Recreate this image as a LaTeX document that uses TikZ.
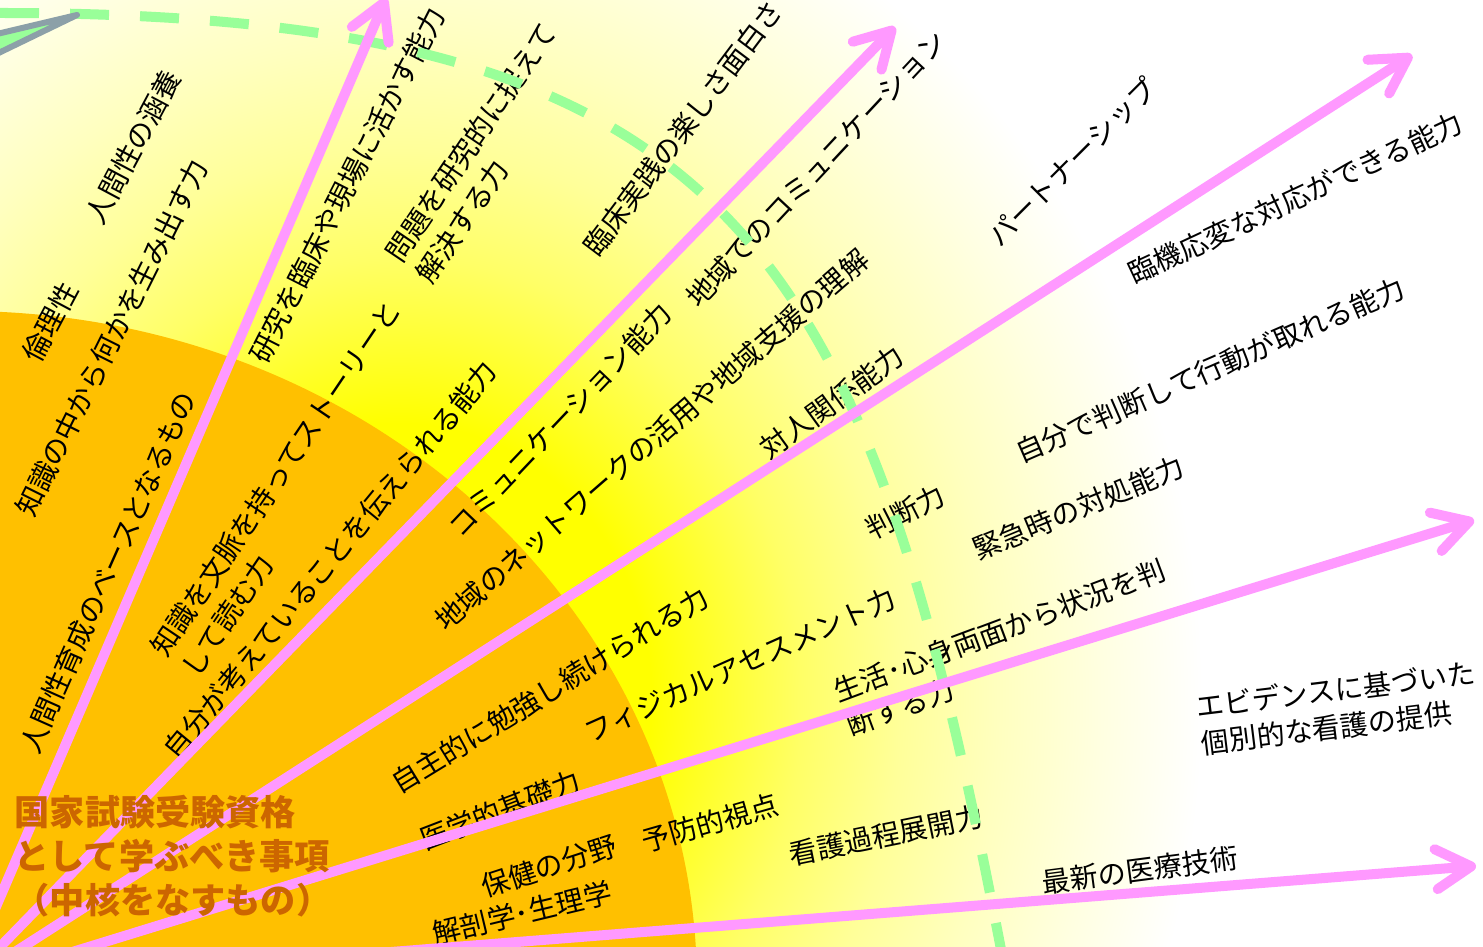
\documentclass[tikz,border=0pt]{standalone}
\usepackage{fontspec}
\setmainfont{Noto Sans CJK JP}
\usetikzlibrary{arrows.meta}

\definecolor{coreorange}{RGB}{255,192,0}
\definecolor{corefont}{RGB}{204,102,0}
\definecolor{raypink}{RGB}{255,153,255}
\definecolor{arcgreen}{RGB}{153,255,153}
\definecolor{wedgegray}{RGB}{140,160,168}
\colorlet{glowA}{yellow!60!white}
\colorlet{glowB}{yellow!40!white}
\colorlet{glowC}{yellow!25!white}
\colorlet{glowD}{yellow!12!white}
\pgfdeclareradialshading{glow}{\pgfpoint{0bp}{0bp}}{color(0bp)=(yellow); color(3.7bp)=(yellow); color(5.9bp)=(glowA); color(7.35bp)=(glowB); color(8.8bp)=(glowC); color(10.3bp)=(glowD); color(11.8bp)=(white); color(50bp)=(white)}

\tikzset{
  lbl/.style={font=\fontsize{8pt}{10.5pt}\selectfont, inner sep=0pt, align=left},
  corelbl/.style={font=\fontsize{10pt}{12.5pt}\selectfont\bfseries, text=corefont, inner sep=0pt, align=left},
  rayarrow/.style={draw=raypink, line width=1mm, line cap=round, -{Straight Barb[length=3.5mm, width=4mm, round]}},
  arcdash/.style={draw=arcgreen, line width=1mm, dash pattern=on 3.9mm off 3.1mm},
  wedge/.style={fill=arcgreen, draw=wedgegray, line width=0.6mm, line join=round}
}

\begin{document}
\begin{tikzpicture}[x=0.01cm, y=-0.01cm]
        \useasboundingbox (0,0) rectangle (1483,946);
        \clip (0,0) rectangle (1483,946);
        % Background and core
        \coordinate (o) at (-38,986);
        \coordinate (glowc) at (400,700);
        \shade[shading=glow] (glowc) ellipse [x radius=1700, y radius=1870];
        \fill[coreorange] (o) ellipse [x radius=735, y radius=675];
        % Labels
        \node[lbl, rotate=62] (ethics) at (50,322) {倫理性};
        \node[lbl, rotate=62] (humanity) at (133,147) {人間性の涵養};
        \node[lbl, rotate=63.5] (create) at (112,338) {知識の中から何かを生み出す力};
        \node[lbl, rotate=66] (base) at (108,572) {人間性育成のベースとなるもの};
        \node[lbl, rotate=63] (research) at (347,185) {研究を臨床や現場に活かす能力};
        \node[lbl, rotate=56] (problem) at (486,153) {問題を研究的に捉えて\\解決する力};
        \node[lbl, rotate=53] (clinical) at (683,128) {臨床実践の楽しさ面白さ};
        \node[lbl, rotate=47] (localcom) at (816,169) {地域でのコミュニケーション};
        \node[lbl, rotate=45] (partner) at (1072,162) {パートナーシップ};
        \node[lbl, rotate=25] (flexible) at (1295,198) {臨機応変な対応ができる能力};
        \node[lbl, rotate=56] (context) at (291,489) {知識を文脈を持ってストーリーと\\して読む力};
        \node[lbl, rotate=50.5] (convey) at (330,560) {自分が考えていることを伝えられる能力};
        \node[lbl, rotate=46.5] (comm) at (560,420) {コミュニケーション能力};
        \node[lbl, rotate=41] (network) at (652,440) {地域のネットワークの活用や地域支援の理解};
        \node[lbl, rotate=36] (interpersonal) at (832,402) {対人関係能力};
        \node[lbl, rotate=27] (judge) at (905,512) {判断力};
        \node[lbl, rotate=23.5] (selfjudge) at (1210,370) {自分で判断して行動が取れる能力};
        \node[lbl, rotate=22.5] (emergency) at (1078,508) {緊急時の対処能力};
        \node[lbl, rotate=31.5] (selfstudy) at (550,690) {自主的に勉強し続けられる力};
        \node[lbl, rotate=24] (physical) at (740,665) {フィジカルアセスメント力};
        \node[lbl, rotate=20.5] (lifejudge) at (1006,648) {生活･心身両面から状況を判\\断する力};
        \node[lbl, rotate=21] (medbase) at (500,810) {医学的基礎力};
        \node[lbl, rotate=18] (health) at (549,866) {保健の分野};
        \node[lbl, rotate=16] (prevent) at (710,823) {予防的視点};
        \node[lbl, rotate=13.5] (anatomy) at (522,913) {解剖学･生理学};
        \node[lbl, rotate=11.5] (process) at (886,835) {看護過程展開力};
        \node[lbl, rotate=7.5] (latest) at (1140,870) {最新の医療技術};
        \node[lbl, rotate=7] (evidence) at (1338,708) {エビデンスに基づいた\\個別的な看護の提供};
        % Outer boundary
        \draw[arcdash] (0,13) .. controls (740,13) and (867,246) .. (1003,960);
        \filldraw[wedge] (-20,38) -- (77,15) -- (-20,62);
        % Rays
        \coordinate (t1) at (386,-2);
        \coordinate (t2) at (895,27);
        \coordinate (t3) at (1412,55);
        \coordinate (t4) at (1474,520);
        \coordinate (t5) at (1476,866);
        \draw[rayarrow] (o) -- (t1);
        \draw[rayarrow] (o) -- (t2);
        \draw[rayarrow] (o) -- (t3);
        \draw[rayarrow] (o) -- (t4);
        \draw[rayarrow] (o) -- (t5);
        \node[corelbl, anchor=west] (core) at (14,856) {国家試験受験資格\\として学ぶべき事項\\（中核をなすもの）};
    \end{tikzpicture}
\end{document}
